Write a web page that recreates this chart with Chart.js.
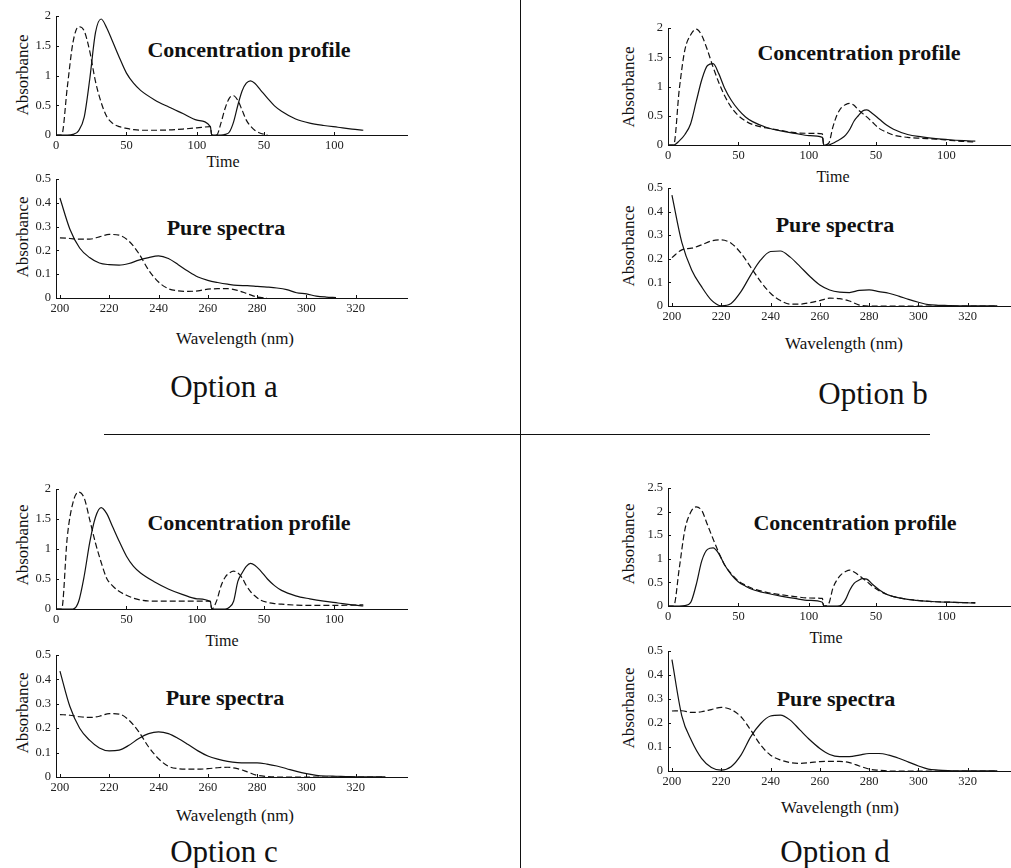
<!DOCTYPE html>
<html>
<head>
<meta charset="utf-8">
<title>Concentration profiles and pure spectra</title>
<script src="https://cdn.jsdelivr.net/npm/chart.js@4.4.1/dist/chart.umd.min.js"></script>
<style>
    html, body { margin: 0; padding: 0; }
    body {
        position: relative;
        width: 1011px;
        height: 868px;
        overflow: hidden;
        background: #fff;
        font-family: "Liberation Serif", "DejaVu Serif", serif;
        color: #111;
    }
    canvas { position: absolute; }
    .lbl { position: absolute; transform: translate(-50%, -50%); white-space: nowrap; line-height: 1; }
    .rot { transform: translate(-50%, -50%) rotate(-90deg); }
    .ytitle { font-size: 17px; }
    .time { font-size: 16px; }
    .wave { font-size: 17px; }
    .panel { font-size: 22px; font-weight: bold; }
    .option { font-size: 31px; }
    .rule { position: absolute; background: #111; }
</style>
</head>
<body>

<!-- divider lines -->
<div class="rule" style="left:520px; top:0; width:1px; height:868px;"></div>
<div class="rule" style="left:104px; top:434px; width:826px; height:1px;"></div>

<!-- option a -->
<div class="lbl rot ytitle" style="left:22px; top:75px;">Absorbance</div>
<div class="lbl panel" style="left:249px; top:50px;">Concentration profile</div>
<div class="lbl time" style="left:223px; top:162px;">Time</div>
<div class="lbl rot ytitle" style="left:22px; top:237px;">Absorbance</div>
<div class="lbl panel" style="left:226px; top:228px;">Pure spectra</div>
<div class="lbl wave" style="left:235px; top:338px;">Wavelength (nm)</div>
<div class="lbl option" style="left:224px; top:386px;">Option a</div>

<!-- option b -->
<div class="lbl rot ytitle" style="left:628px; top:87px;">Absorbance</div>
<div class="lbl panel" style="left:859px; top:53px;">Concentration profile</div>
<div class="lbl time" style="left:833px; top:177px;">Time</div>
<div class="lbl rot ytitle" style="left:628px; top:246px;">Absorbance</div>
<div class="lbl panel" style="left:835px; top:225px;">Pure spectra</div>
<div class="lbl wave" style="left:844px; top:343px;">Wavelength (nm)</div>
<div class="lbl option" style="left:873px; top:393px;">Option b</div>

<!-- option c -->
<div class="lbl rot ytitle" style="left:22px; top:545px;">Absorbance</div>
<div class="lbl panel" style="left:249px; top:523px;">Concentration profile</div>
<div class="lbl time" style="left:222px; top:641px;">Time</div>
<div class="lbl rot ytitle" style="left:22px; top:713px;">Absorbance</div>
<div class="lbl panel" style="left:225px; top:698px;">Pure spectra</div>
<div class="lbl wave" style="left:235px; top:815px;">Wavelength (nm)</div>
<div class="lbl option" style="left:224px; top:851px;">Option c</div>

<!-- option d -->
<div class="lbl rot ytitle" style="left:628px; top:544px;">Absorbance</div>
<div class="lbl panel" style="left:855px; top:523px;">Concentration profile</div>
<div class="lbl time" style="left:826px; top:638px;">Time</div>
<div class="lbl rot ytitle" style="left:628px; top:708px;">Absorbance</div>
<div class="lbl panel" style="left:836px; top:699px;">Pure spectra</div>
<div class="lbl wave" style="left:840px; top:807px;">Wavelength (nm)</div>
<div class="lbl option" style="left:835px; top:851px;">Option d</div>

<script>
// time axis: two runs put one after the other, the second run is labelled again
const TIME = [0, 4, 8, 12, 16, 20, 24, 28, 32, 36,
              40, 45, 50, 55, 60, 70, 80, 90, 100, 109.5,
              110.5, 114, 117, 120, 123, 126, 129, 132, 135, 138,
              141, 145, 150, 155, 160, 170, 180, 190, 200, 210,
              218];
const TIME_TICKS = [0, 50, 100, 147.5, 197.5];
const TIME_TICK_LABELS = ['0', '50', '100', '50', '100'];

const WAVE = [200, 204, 208, 212, 216, 220, 224, 228, 232, 236,
              240, 244, 248, 252, 256, 260, 264, 268, 272, 276,
              280, 284, 288, 292, 296, 300, 304, 308, 312, 316,
              320, 324, 328, 332];
const WAVE_TICKS = [200, 220, 240, 260, 280, 300, 320];

// concentration profiles (solid / dashed)
const concASolid = [0, 0, 0, 0.01, 0.07, 0.3, 0.95, 1.72, 1.95, 1.8,
                    1.58, 1.3, 1.04, 0.87, 0.75, 0.59, 0.47, 0.36, 0.25, 0.14,
                    0, 0, 0, 0.01, 0.05, 0.22, 0.5, 0.74, 0.87, 0.91,
                    0.87, 0.76, 0.62, 0.49, 0.4, 0.27, 0.2, 0.16, 0.13, 0.1,
                    0.08];
const concADash = [0, 0, 0.8, 1.55, 1.82, 1.75, 1.4, 0.9, 0.55, 0.31,
                   0.2, 0.14, 0.11, 0.09, 0.08, 0.08, 0.085, 0.1, 0.12, 0.14,
                   0, 0, 0.2, 0.45, 0.62, 0.66, 0.58, 0.42, 0.25, 0.15,
                   0.08, 0.03, 0, null, null, null, null, null, null, null,
                   null];

const concBSolid = [0, 0, 0.07, 0.18, 0.36, 0.74, 1.12, 1.36, 1.39, 1.22,
                    0.98, 0.76, 0.6, 0.48, 0.4, 0.3, 0.24, 0.2, 0.16, 0.13,
                    0, 0, 0.03, 0.07, 0.11, 0.17, 0.27, 0.41, 0.5, 0.58,
                    0.6, 0.54, 0.44, 0.34, 0.27, 0.18, 0.14, 0.11, 0.09, 0.075,
                    0.065];
const concBDash = [0, 0, 0.95, 1.63, 1.88, 1.98, 1.87, 1.62, 1.33, 1.07,
                   0.85, 0.64, 0.5, 0.41, 0.35, 0.29, 0.25, 0.21, 0.2, 0.19,
                   0, 0.03, 0.31, 0.52, 0.64, 0.69, 0.71, 0.68, 0.6, 0.54,
                   0.48, 0.39, 0.28, 0.22, 0.17, 0.13, 0.115, 0.1, 0.08, 0.06,
                   0.05];

const concCSolid = [0, 0, 0, 0, 0.12, 0.55, 1.12, 1.53, 1.69, 1.59,
                    1.38, 1.12, 0.88, 0.71, 0.6, 0.45, 0.33, 0.24, 0.17, 0.12,
                    0, 0, 0, 0, 0.03, 0.13, 0.46, 0.6, 0.71, 0.76,
                    0.73, 0.64, 0.5, 0.39, 0.31, 0.22, 0.17, 0.13, 0.1, 0.07,
                    0.05];
const concCDash = [0, 0, 1.2, 1.77, 1.95, 1.85, 1.48, 1.1, 0.78, 0.51,
                   0.39, 0.29, 0.23, 0.18, 0.15, 0.13, 0.13, 0.13, 0.13, 0.13,
                   0, 0.14, 0.38, 0.53, 0.6, 0.63, 0.6, 0.52, 0.39, 0.29,
                   0.22, 0.15, 0.11, 0.09, 0.08, 0.065, 0.06, 0.06, 0.06, 0.065,
                   0.07];

const concDSolid = [0, 0, 0, 0.01, 0.07, 0.45, 0.96, 1.2, 1.23, 1.11,
                    0.88, 0.66, 0.51, 0.42, 0.35, 0.27, 0.21, 0.16, 0.12, 0.08,
                    0, 0, 0, 0, 0.02, 0.14, 0.34, 0.48, 0.54, 0.58,
                    0.57, 0.46, 0.34, 0.25, 0.2, 0.14, 0.11, 0.09, 0.08, 0.07,
                    0.06];
const concDDash = [0, 0, 0.8, 1.62, 1.98, 2.1, 2.02, 1.72, 1.42, 1.13,
                   0.88, 0.68, 0.53, 0.44, 0.37, 0.29, 0.24, 0.2, 0.17, 0.16,
                   0, 0.05, 0.38, 0.56, 0.67, 0.73, 0.76, 0.72, 0.66, 0.59,
                   0.52, 0.42, 0.32, 0.25, 0.2, 0.14, 0.11, 0.09, 0.08, 0.07,
                   0.07];

// pure spectra (solid / dashed)
const specASolid = [0.42, 0.29, 0.21, 0.17, 0.147, 0.14, 0.138, 0.145, 0.159, 0.17,
                    0.177, 0.166, 0.14, 0.112, 0.088, 0.074, 0.065, 0.058, 0.053, 0.052,
                    0.049, 0.046, 0.042, 0.035, 0.022, 0.017, 0.008, 0.004, 0.002, null,
                    null, null, null, null];
const specADash = [0.253, 0.25, 0.247, 0.247, 0.257, 0.267, 0.264, 0.239, 0.187, 0.117,
                   0.067, 0.039, 0.03, 0.028, 0.03, 0.037, 0.039, 0.039, 0.032, 0.018,
                   0.004, 0, null, null, null, null, null, null, null, null,
                   null, null, null, null];

const specBSolid = [0.47, 0.27, 0.153, 0.082, 0.025, 0.001, 0.011, 0.061, 0.132, 0.195,
                    0.231, 0.233, 0.207, 0.167, 0.125, 0.089, 0.068, 0.059, 0.057, 0.066,
                    0.068, 0.061, 0.054, 0.042, 0.028, 0.016, 0.006, 0.003, 0.002, 0.001,
                    0.001, 0.001, 0.001, 0.001];
const specBDash = [0.205, 0.238, 0.245, 0.259, 0.276, 0.28, 0.266, 0.224, 0.164, 0.103,
                   0.054, 0.023, 0.008, 0.008, 0.014, 0.023, 0.033, 0.031, 0.021, 0.004,
                   0, 0, 0, 0, 0, 0, 0, 0, 0, 0,
                   0, 0, 0, 0];

const specCSolid = [0.434, 0.29, 0.2, 0.151, 0.119, 0.107, 0.11, 0.13, 0.158, 0.178,
                    0.185, 0.178, 0.158, 0.133, 0.107, 0.086, 0.073, 0.064, 0.059, 0.058,
                    0.058, 0.053, 0.045, 0.034, 0.023, 0.014, 0.007, 0.004, 0.003, 0.002,
                    0.001, 0.001, 0.001, 0.001];
const specCDash = [0.256, 0.253, 0.247, 0.244, 0.249, 0.26, 0.258, 0.233, 0.185, 0.123,
                   0.075, 0.044, 0.034, 0.032, 0.032, 0.034, 0.038, 0.04, 0.034, 0.021,
                   0.007, 0.002, 0, 0, 0, 0, 0, 0, 0, 0,
                   0, 0, 0, 0];

const specDSolid = [0.464, 0.23, 0.125, 0.053, 0.015, 0.004, 0.018, 0.066, 0.143, 0.198,
                    0.229, 0.233, 0.212, 0.17, 0.129, 0.094, 0.069, 0.06, 0.06, 0.066,
                    0.073, 0.073, 0.066, 0.053, 0.037, 0.021, 0.008, 0.004, 0.002, 0.001,
                    0.001, 0.001, 0.001, 0.001];
const specDDash = [0.25, 0.251, 0.244, 0.247, 0.256, 0.265, 0.256, 0.226, 0.17, 0.108,
                   0.066, 0.046, 0.035, 0.032, 0.035, 0.039, 0.04, 0.04, 0.035, 0.021,
                   0.008, 0.003, 0, 0, 0, 0, 0, 0, 0, 0,
                   0, 0, 0, 0];

const Y_W = 40;     // width kept for the y tick labels
const X_H = 22;     // height kept for the x tick labels
const PAD_T = 16;
const PAD_R = 1;
const INK = '#111';
const TICK_FONT = { family: '"Liberation Serif", serif', size: 12.5 };

// small tick marks drawn inward, like the original plots
const innerTicks = {
    id: 'innerTicks',
    afterDatasetsDraw(chart) {
        const { ctx, chartArea, scales } = chart;
        ctx.save();
        ctx.strokeStyle = INK;
        ctx.lineWidth = 1;
        ctx.beginPath();
        scales.x.ticks.forEach(t => {
            const px = Math.round(scales.x.getPixelForValue(t.value)) + 0.5;
            ctx.moveTo(px, chartArea.bottom);
            ctx.lineTo(px, chartArea.bottom - 3);
        });
        scales.y.ticks.forEach(t => {
            const py = Math.round(scales.y.getPixelForValue(t.value)) + 0.5;
            ctx.moveTo(chartArea.left, py);
            ctx.lineTo(chartArea.left + 3, py);
        });
        ctx.stroke();
        ctx.restore();
    }
};

function points(xs, ys) {
    return xs.map((x, i) => ({ x: x, y: ys[i] }));
}

// area = plot rectangle on the page (left, top, right, bottom)
function makeChart(area, xs, solid, dashed, xAxis, yMax, yStep) {
    const canvas = document.createElement('canvas');
    const w = area.right - area.left + Y_W + PAD_R;
    const h = area.bottom - area.top + PAD_T + X_H;
    canvas.width = w;
    canvas.height = h;
    canvas.style.left = (area.left - Y_W) + 'px';
    canvas.style.top = (area.top - PAD_T) + 'px';
    canvas.style.width = w + 'px';
    canvas.style.height = h + 'px';
    document.body.appendChild(canvas);

    const lineStyle = {
        borderColor: INK,
        borderWidth: 1.2,
        pointRadius: 0,
        fill: false,
        cubicInterpolationMode: 'monotone',
        spanGaps: false
    };

    new Chart(canvas.getContext('2d'), {
        type: 'line',
        data: {
            datasets: [
                Object.assign({ label: 'solid', data: points(xs, solid) }, lineStyle),
                Object.assign({ label: 'dashed', data: points(xs, dashed), borderDash: [6, 3] }, lineStyle)
            ]
        },
        options: {
            responsive: false,
            animation: false,
            devicePixelRatio: 1,
            layout: { padding: { top: PAD_T, right: PAD_R, left: 0, bottom: 0 } },
            plugins: {
                legend: { display: false },
                tooltip: { enabled: false }
            },
            scales: {
                x: {
                    type: 'linear',
                    min: xAxis.min,
                    max: xAxis.max,
                    afterBuildTicks: scale => {
                        scale.ticks = xAxis.ticks.map(v => ({ value: v }));
                    },
                    afterFit: scale => { scale.height = X_H; },
                    grid: { drawOnChartArea: false, drawTicks: false },
                    border: { display: true, color: INK, width: 1 },
                    ticks: {
                        autoSkip: false,
                        maxRotation: 0,
                        padding: 3,
                        color: '#222',
                        font: TICK_FONT,
                        callback: (value, index) => xAxis.labels[index]
                    }
                },
                y: {
                    min: 0,
                    max: yMax,
                    afterFit: scale => { scale.width = Y_W; },
                    grid: { drawOnChartArea: false, drawTicks: false },
                    border: { display: true, color: INK, width: 1 },
                    ticks: {
                        stepSize: yStep,
                        padding: 5,
                        color: '#222',
                        font: TICK_FONT,
                        // plain numbers: 2, 1.5, 1, 0.5, 0
                        callback: value => String(Number(value.toFixed(2)))
                    }
                }
            }
        },
        plugins: [innerTicks]
    });
}

const timeAxis = { min: 0, max: 249, ticks: TIME_TICKS, labels: TIME_TICK_LABELS };
const waveAxis = { min: 198.4, max: 340.8, ticks: WAVE_TICKS, labels: WAVE_TICKS.map(String) };

// option a
makeChart({ left: 56, top: 16, right: 407, bottom: 135 }, TIME, concASolid, concADash, timeAxis, 2, 0.5);
makeChart({ left: 56, top: 179, right: 407, bottom: 298 }, WAVE, specASolid, specADash, waveAxis, 0.5, 0.1);
// option b
makeChart({ left: 668, top: 28, right: 1019, bottom: 145 }, TIME, concBSolid, concBDash, timeAxis, 2, 0.5);
makeChart({ left: 668, top: 188, right: 1019, bottom: 306 }, WAVE, specBSolid, specBDash, waveAxis, 0.5, 0.1);
// option c
makeChart({ left: 56, top: 489, right: 407, bottom: 609 }, TIME, concCSolid, concCDash, timeAxis, 2, 0.5);
makeChart({ left: 56, top: 655, right: 407, bottom: 777 }, WAVE, specCSolid, specCDash, waveAxis, 0.5, 0.1);
// option d
makeChart({ left: 668, top: 488, right: 1019, bottom: 606 }, TIME, concDSolid, concDDash, timeAxis, 2.5, 0.5);
makeChart({ left: 668, top: 651, right: 1019, bottom: 771 }, WAVE, specDSolid, specDDash, waveAxis, 0.5, 0.1);
</script>
</body>
</html>
